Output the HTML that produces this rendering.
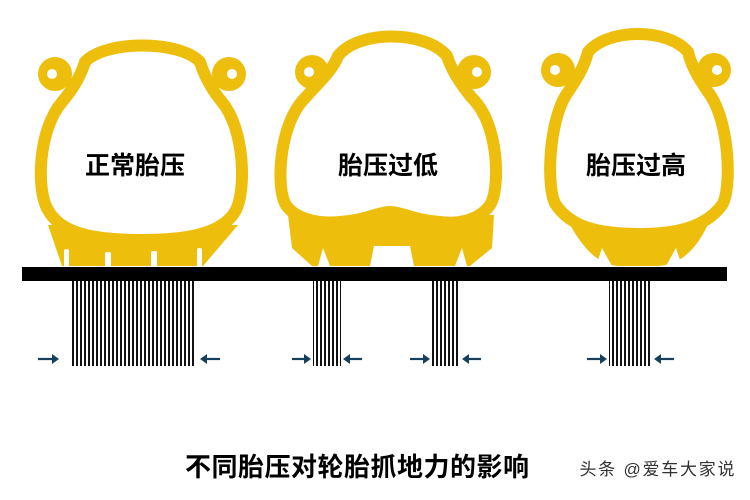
<!DOCTYPE html>
<html><head><meta charset="utf-8"><style>
html,body{margin:0;padding:0;background:#fff;}
svg{display:block;}
.lbl{font-family:"Liberation Sans","Noto Sans CJK SC",sans-serif;font-weight:bold;font-size:25px;fill:#000;}
</style></head><body>
<svg width="750" height="500" viewBox="0 0 750 500" xmlns="http://www.w3.org/2000/svg">
<defs>
<pattern id="st" width="4" height="10" patternUnits="userSpaceOnUse">
<rect x="0" y="0" width="2" height="10" fill="#111"/>
</pattern>
</defs>
<g fill="#EEBE0C" stroke="none">
<!-- normal tire -->
<circle cx="55" cy="74" r="17"/><circle cx="229" cy="74" r="17"/>
<path d="M48 225 L62 266 L203 266 L238 225 Z"/>
<path d="M85 62 C105 40,180 40,200 62 C205 78,212 90,222 102 C245 130,246 190,236 210 C222 236,180 240,143 240 C100 240,62 236,48 210 C36 190,38 130,62 102 C72 90,80 78,85 62 Z" fill="#fff" stroke="#EEBE0C" stroke-width="12"/>
<!-- low tire -->
<circle cx="312" cy="72" r="17"/><circle cx="474" cy="72" r="17"/>
<path d="M288 215 L292 248 L312 266 L470 266 L492 248 L494 215 Z"/>
<path d="M338 56 C358 30,425 30,447 56 C452 72,462 86,472 98 C500 125,500 190,490 205 C478 222,455 224,440 222 C412 220,402 212,390 212 C378 212,368 220,340 222 C320 224,296 220,286 205 C276 190,278 125,305 98 C315 86,332 72,338 56 Z" fill="#fff" stroke="#EEBE0C" stroke-width="12"/>
<!-- high tire -->
<circle cx="558" cy="70" r="17"/><circle cx="714" cy="70" r="17"/>
<path d="M565 215 C582 250,600 266,620 266 L655 266 C680 266,698 250,712 215 Z"/>
<path d="M588 52 C608 28,668 28,688 52 C692 68,700 80,708 92 C730 120,732 190,722 205 C705 228,675 234,640 234 C600 234,572 228,556 205 C546 190,548 120,568 92 C576 80,584 68,588 52 Z" fill="#fff" stroke="#EEBE0C" stroke-width="12"/>
</g>
<g fill="#fff">
<circle cx="52" cy="74" r="5"/><circle cx="232" cy="74" r="5"/>
<circle cx="309" cy="72" r="5"/><circle cx="477" cy="72" r="5"/>
<circle cx="555" cy="70" r="5"/><circle cx="717" cy="70" r="5"/>
<!-- tread slots -->
<rect x="64" y="249" width="5" height="18" rx="2"/><rect x="105" y="252" width="6" height="15" rx="2"/><rect x="151" y="251" width="6" height="16" rx="2"/><rect x="197" y="248" width="5" height="19" rx="2"/>
<path d="M318 266 L323 248 L330 266 Z"/><path d="M370 266 L374 246 L410 246 L414 266 Z"/><path d="M455 266 L462 248 L467 266 Z"/>
<path d="M596 266 L602 248 L612 266 Z"/><path d="M666 266 L676 248 L682 266 Z"/>
</g>
<text class="lbl" x="135" y="174" text-anchor="middle">正常胎压</text>
<text class="lbl" x="388" y="174" text-anchor="middle">胎压过低</text>
<text class="lbl" x="636" y="174" text-anchor="middle">胎压过高</text>
<rect x="22" y="267" width="705" height="14" fill="#000"/>
<rect x="70" y="281" width="124" height="85" fill="url(#st)"/>
<rect x="313" y="281" width="28" height="85" fill="url(#st)"/>
<rect x="432" y="281" width="28" height="85" fill="url(#st)"/>
<rect x="609" y="281" width="42" height="85" fill="url(#st)"/>
<g stroke="#17405f" stroke-width="2.2" fill="#17405f">
<line x1="38" y1="359" x2="55" y2="359"/><path d="M59 359 L52 354 L52 364 Z" stroke="none"/>
<line x1="204" y1="359" x2="220" y2="359"/><path d="M200 359 L207 354 L207 364 Z" stroke="none"/>
<line x1="292" y1="359" x2="307" y2="359"/><path d="M311 359 L304 354 L304 364 Z" stroke="none"/>
<line x1="347" y1="359" x2="362" y2="359"/><path d="M343 359 L350 354 L350 364 Z" stroke="none"/>
<line x1="410" y1="359" x2="426" y2="359"/><path d="M430 359 L423 354 L423 364 Z" stroke="none"/>
<line x1="466" y1="359" x2="481" y2="359"/><path d="M462 359 L469 354 L469 364 Z" stroke="none"/>
<line x1="587" y1="359" x2="603" y2="359"/><path d="M607 359 L600 354 L600 364 Z" stroke="none"/>
<line x1="658" y1="359" x2="674" y2="359"/><path d="M654 359 L661 354 L661 364 Z" stroke="none"/>
</g>
<text x="358" y="476" text-anchor="middle" style="font-family:'Liberation Sans','Noto Sans CJK SC',sans-serif;font-weight:bold;font-size:26px;letter-spacing:2px" fill="#000" textLength="346">不同胎压对轮胎抓地力的影响</text>
<text x="657" y="475" text-anchor="middle" style="font-family:'Liberation Sans','Noto Sans CJK SC',sans-serif;font-size:17px" fill="#333" textLength="155">头条 @爱车大家说</text>
</svg>
</body></html>
